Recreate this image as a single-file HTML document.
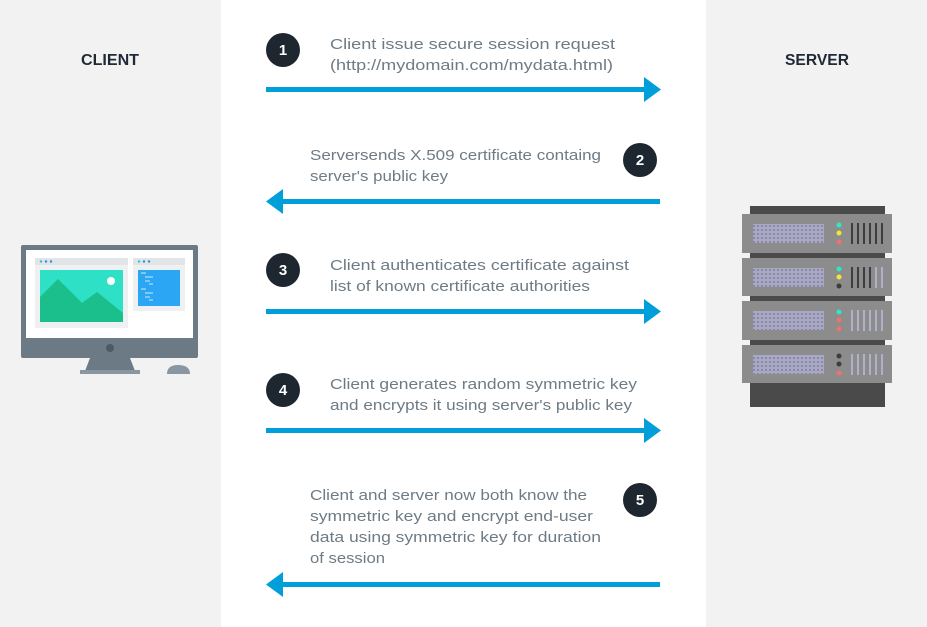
<!DOCTYPE html>
<html><head><meta charset="utf-8"><style>
html,body{margin:0;padding:0;background:#f2f2f2;}
svg{display:block;font-family:"Liberation Sans",sans-serif;}
</style></head><body>
<svg width="927" height="627" viewBox="0 0 927 627" xmlns="http://www.w3.org/2000/svg">
<rect width="927" height="627" fill="#f2f2f2"/>
<rect x="221" y="0" width="485" height="627" fill="#ffffff"/>
<text x="81" y="65" font-size="16" font-weight="bold" fill="#1e2a36" textLength="58" lengthAdjust="spacingAndGlyphs">CLIENT</text>
<text x="785" y="65" font-size="16" font-weight="bold" fill="#1e2a36" textLength="64" lengthAdjust="spacingAndGlyphs">SERVER</text>

<!-- monitor -->
<rect x="21" y="245" width="177" height="113" rx="2" fill="#6c7a86"/>
<rect x="26" y="250" width="167" height="88" fill="#ffffff"/>
<circle cx="110" cy="348" r="4" fill="#4d5a66"/>
<polygon points="90,358 130,358 135,371 85,371" fill="#6c7a86"/>
<rect x="80" y="370" width="60" height="4" fill="#8a96a1"/>
<path d="M167,374 Q167,365 178,365 Q190,365 190,374 Z" fill="#8a96a1"/>
<rect x="35" y="258" width="93" height="70" fill="#eef0f2"/>
<rect x="35" y="258" width="93" height="7" fill="#e1e5e8"/>
<circle cx="41" cy="261.5" r="1.2" fill="#2bc7c0"/><circle cx="46" cy="261.5" r="1.2" fill="#2b90d9"/><circle cx="51" cy="261.5" r="1.2" fill="#2b90d9"/>
<rect x="40" y="270" width="83" height="52" fill="#2ee0c6"/>
<polygon points="40,297 58,279 82,303 97,292 123,313 123,322 40,322" fill="#1abf8b"/>
<circle cx="111" cy="281" r="4" fill="#ffffff"/>
<rect x="133" y="258" width="52" height="53" fill="#eef0f2"/>
<rect x="133" y="258" width="52" height="7" fill="#e1e5e8"/>
<circle cx="139" cy="261.5" r="1.2" fill="#2bc7c0"/><circle cx="144" cy="261.5" r="1.2" fill="#2b90d9"/><circle cx="149" cy="261.5" r="1.2" fill="#2b90d9"/>
<rect x="138" y="270" width="42" height="36" fill="#2aa6f5"/>
<g stroke="#cfeaff" stroke-width="1"><line x1="141" y1="273" x2="146" y2="273"/><line x1="145" y1="277" x2="153" y2="277"/><line x1="145" y1="281" x2="150" y2="281"/><line x1="149" y1="284" x2="153" y2="284"/><line x1="141" y1="289" x2="146" y2="289"/><line x1="145" y1="293" x2="153" y2="293"/><line x1="145" y1="297" x2="150" y2="297"/><line x1="149" y1="300" x2="153" y2="300"/></g>

<!-- server -->
<rect x="750" y="206" width="135" height="201" fill="#4a4a4a"/>
<defs>
<pattern id="g" x="0" y="0" width="4" height="4" patternUnits="userSpaceOnUse"><rect width="4" height="4" fill="#a9a8c4"/><rect x="1" y="1" width="2" height="2" fill="#8b8aa6"/></pattern>
</defs>
<g>
<rect x="742" y="214" width="150" height="39" fill="#8c8c8c"/>
<rect x="753" y="224" width="71" height="19" fill="url(#g)"/>
<circle cx="839" cy="225" r="2.5" fill="#2fe6c8"/><circle cx="839" cy="233" r="2.5" fill="#f2e43a"/><circle cx="839" cy="242" r="2.5" fill="#f07070"/>
<g fill="#3d3d3d"><rect x="851" y="223" width="2" height="21"/><rect x="857" y="223" width="2" height="21"/><rect x="863" y="223" width="2" height="21"/><rect x="869" y="223" width="2" height="21"/><rect x="875" y="223" width="2" height="21"/><rect x="881" y="223" width="2" height="21"/></g>

<rect x="742" y="258" width="150" height="38" fill="#8c8c8c"/>
<rect x="753" y="268" width="71" height="19" fill="url(#g)"/>
<circle cx="839" cy="269" r="2.5" fill="#2fe6c8"/><circle cx="839" cy="277" r="2.5" fill="#f2e43a"/><circle cx="839" cy="286" r="2.5" fill="#3d3d3d"/>
<g><rect x="851" y="267" width="2" height="21" fill="#3d3d3d"/><rect x="857" y="267" width="2" height="21" fill="#3d3d3d"/><rect x="863" y="267" width="2" height="21" fill="#3d3d3d"/><rect x="869" y="267" width="2" height="21" fill="#3d3d3d"/><rect x="875" y="267" width="2" height="21" fill="#b0b0c8"/><rect x="881" y="267" width="2" height="21" fill="#b0b0c8"/></g>

<rect x="742" y="301" width="150" height="39" fill="#8c8c8c"/>
<rect x="753" y="311" width="71" height="19" fill="url(#g)"/>
<circle cx="839" cy="312" r="2.5" fill="#2fe6c8"/><circle cx="839" cy="320" r="2.5" fill="#f07070"/><circle cx="839" cy="329" r="2.5" fill="#f07070"/>
<g fill="#b0b0c8"><rect x="851" y="310" width="2" height="21"/><rect x="857" y="310" width="2" height="21"/><rect x="863" y="310" width="2" height="21"/><rect x="869" y="310" width="2" height="21"/><rect x="875" y="310" width="2" height="21"/><rect x="881" y="310" width="2" height="21"/></g>

<rect x="742" y="345" width="150" height="38" fill="#8c8c8c"/>
<rect x="753" y="355" width="71" height="19" fill="url(#g)"/>
<circle cx="839" cy="356" r="2.5" fill="#3d3d3d"/><circle cx="839" cy="364" r="2.5" fill="#3d3d3d"/><circle cx="839" cy="373" r="2.5" fill="#f07070"/>
<g fill="#b0b0c8"><rect x="851" y="354" width="2" height="21"/><rect x="857" y="354" width="2" height="21"/><rect x="863" y="354" width="2" height="21"/><rect x="869" y="354" width="2" height="21"/><rect x="875" y="354" width="2" height="21"/><rect x="881" y="354" width="2" height="21"/></g>
</g>

<!-- arrows -->
<g fill="#009fd9">
<rect x="266" y="87" width="382" height="5"/><polygon points="644,77 661,89.5 644,102"/>
<rect x="280" y="199" width="380" height="5"/><polygon points="283,189 266,201.5 283,214"/>
<rect x="266" y="309" width="382" height="5"/><polygon points="644,299 661,311.5 644,324"/>
<rect x="266" y="428" width="382" height="5"/><polygon points="644,418 661,430.5 644,443"/>
<rect x="280" y="582" width="380" height="5"/><polygon points="283,572 266,584.5 283,597"/>
</g>

<!-- circles -->
<g fill="#1e2730">
<circle cx="283" cy="50" r="17"/><circle cx="640" cy="160" r="17"/><circle cx="283" cy="270" r="17"/><circle cx="283" cy="390" r="17"/><circle cx="640" cy="500" r="17"/>
</g>
<g fill="#ffffff" font-size="15" font-weight="bold" text-anchor="middle">
<text x="283" y="55">1</text><text x="640" y="165">2</text><text x="283" y="275">3</text><text x="283" y="395">4</text><text x="640" y="505">5</text>
</g>

<g fill="#6e7b85" font-size="15" lengthAdjust="spacingAndGlyphs">
<text x="330" y="49" textLength="285" lengthAdjust="spacingAndGlyphs">Client issue secure session request</text>
<text x="330" y="70" textLength="283" lengthAdjust="spacingAndGlyphs">(http://mydomain.com/mydata.html)</text>
<text x="310" y="160" textLength="291" lengthAdjust="spacingAndGlyphs">Serversends X.509 certificate containg</text>
<text x="310" y="181" textLength="138" lengthAdjust="spacingAndGlyphs">server's public key</text>
<text x="330" y="270" textLength="299" lengthAdjust="spacingAndGlyphs">Client authenticates certificate against</text>
<text x="330" y="291" textLength="260" lengthAdjust="spacingAndGlyphs">list of known certificate authorities</text>
<text x="330" y="389" textLength="307" lengthAdjust="spacingAndGlyphs">Client generates random symmetric key</text>
<text x="330" y="410" textLength="302" lengthAdjust="spacingAndGlyphs">and encrypts it using server's public key</text>
<text x="310" y="500" textLength="277" lengthAdjust="spacingAndGlyphs">Client and server now both know the</text>
<text x="310" y="521" textLength="283" lengthAdjust="spacingAndGlyphs">symmetric key and encrypt end-user</text>
<text x="310" y="542" textLength="291" lengthAdjust="spacingAndGlyphs">data using symmetric key for duration</text>
<text x="310" y="563" textLength="75" lengthAdjust="spacingAndGlyphs">of session</text>
</g>
</svg>
</body></html>
